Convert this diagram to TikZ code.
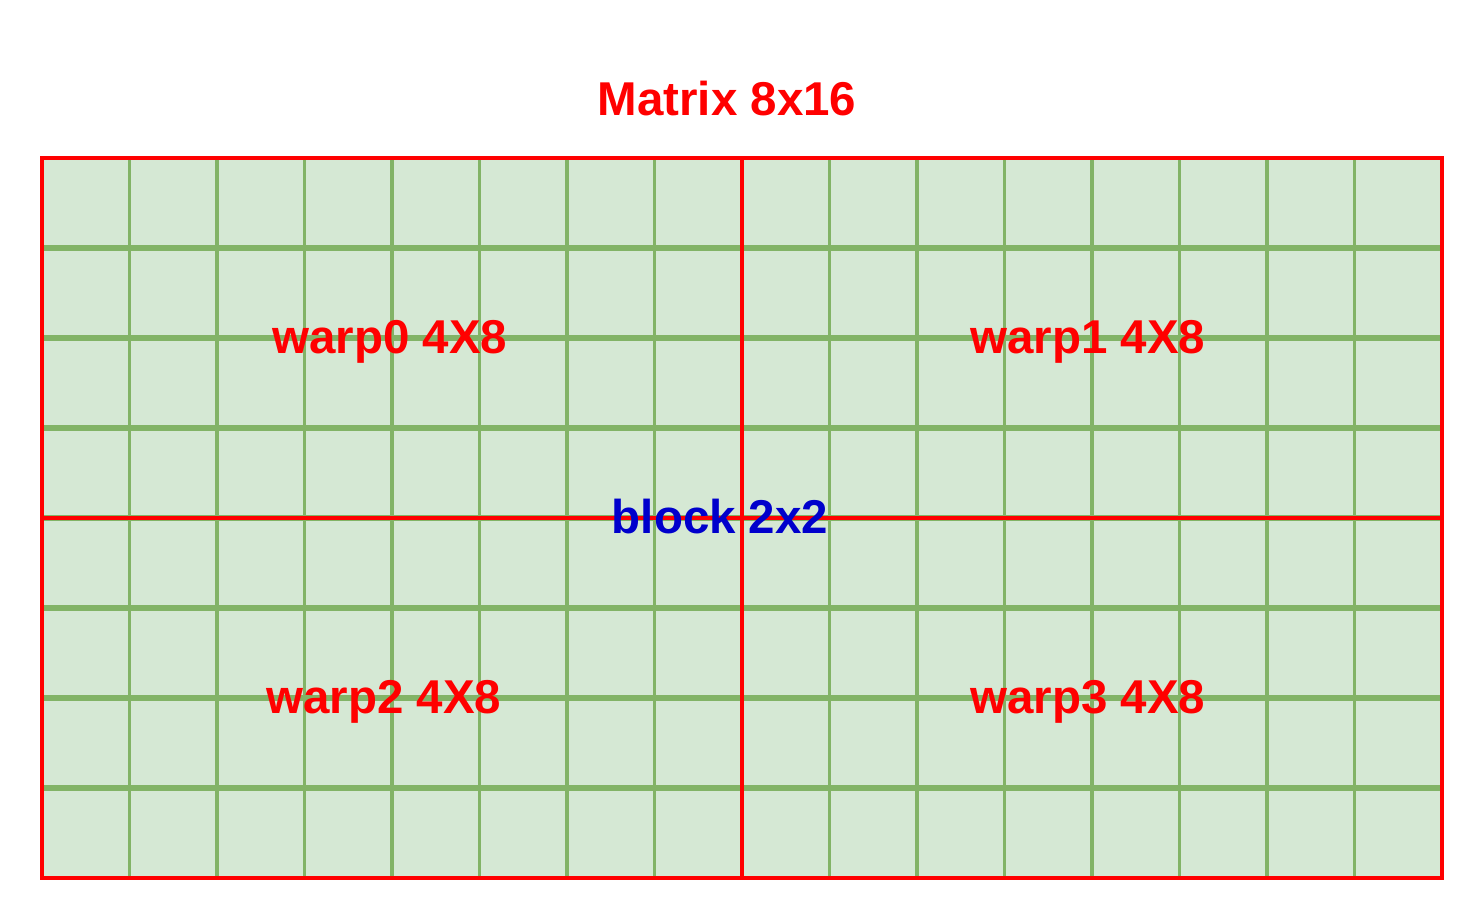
\documentclass[tikz,border=0pt]{standalone}
\usepackage{fontspec}
\setmainfont{Liberation Sans}
\definecolor{cellfill}{HTML}{D5E8D4}
\definecolor{cellline}{HTML}{82B366}
\definecolor{warpred}{HTML}{FF0000}
\definecolor{blockblue}{HTML}{0000CC}
\begin{document}
\begin{tikzpicture}[x=0.01cm,y=-0.01cm,
  vline/.style={draw=cellline,line width=1.1pt},
  hline/.style={draw=cellline,line width=1.7pt},
  warpbox/.style={draw=warpred,line width=1.1pt},
  lbl/.style={font=\fontsize{13.5}{16}\selectfont\bfseries,inner sep=0pt,anchor=base},
  redlbl/.style={lbl,text=warpred},
  bluelbl/.style={lbl,text=blockblue}]
\useasboundingbox (0,0) rectangle (1484,924);
\fill[cellfill] (42,158) rectangle (1442,878);
\foreach \i in {1,...,15}{
  \draw[vline] ({42+87.5*\i},158) -- ({42+87.5*\i},878);
}
\foreach \j in {1,...,7}{
  \draw[hline] (42,{158+90*\j}) -- (1442,{158+90*\j});
}
\draw[warpbox] (42,158) rectangle (742,518);
\draw[warpbox] (742,158) rectangle (1442,518);
\draw[warpbox] (42,518) rectangle (742,878);
\draw[warpbox] (742,518) rectangle (1442,878);
\node[redlbl] (title) at (727,115) {Matrix 8x16};
\node[redlbl] (w0) at (390,353) {warp0 4X8};
\node[redlbl] (w1) at (1088,353) {warp1 4X8};
\node[redlbl] (w2) at (384,713) {warp2 4X8};
\node[redlbl] (w3) at (1088,713) {warp3 4X8};
\node[bluelbl] (blk) at (720,533) {block 2x2};
\end{tikzpicture}
\end{document}
